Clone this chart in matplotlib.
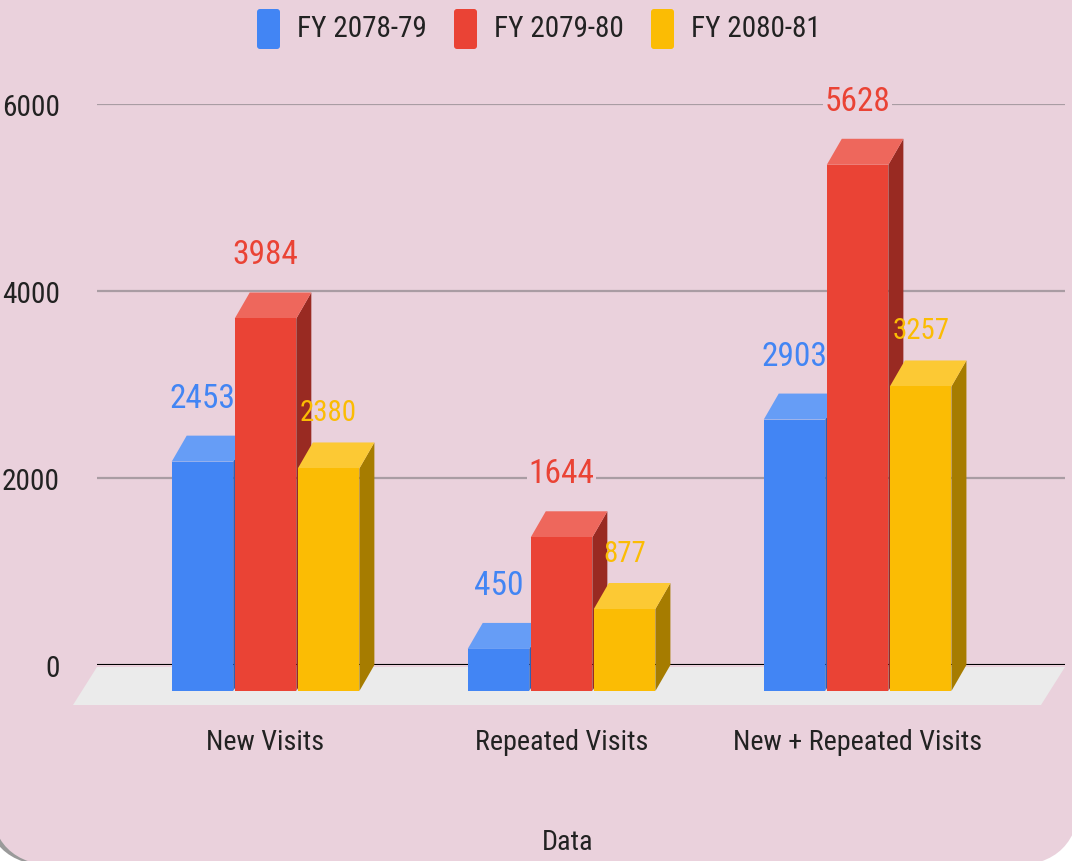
import matplotlib
matplotlib.use('Agg')
import matplotlib.pyplot as plt
from matplotlib.patches import Polygon, FancyBboxPatch
from matplotlib.transforms import IdentityTransform
from matplotlib.font_manager import FontProperties
from matplotlib.textpath import TextToPath
from matplotlib import font_manager

categories = ['New Visits', 'Repeated Visits', 'New + Repeated Visits']
series = ['FY 2078-79', 'FY 2079-80', 'FY 2080-81']
fy_7879 = [2453, 450, 2903]
fy_7980 = [3984, 1644, 5628]
fy_8081 = [2380, 877, 3257]
yticks = [0, 2000, 4000, 6000]

front_colors = ['#4285f4', '#ea4335', '#fbbc04']
top_colors = ['#669df6', '#ee675c', '#fcc934']
side_colors = ['#2f5fb3', '#992a22', '#a67c00']
bg = '#ead1dc'
txt = '#222222'


def pick_font():
    """prefer a condensed face, the original text is very narrow"""
    wanted = ['Roboto Condensed', 'Liberation Sans Narrow', 'DejaVu Sans', 'Open Sans', 'Noto Sans']
    found = {}
    for f in font_manager.fontManager.ttflist:
        fn = f.fname.lower().replace('-', '').replace('_', '')
        if 'bold' in fn or 'italic' in fn or 'oblique' in fn or 'light' in fn:
            continue
        if 'semicondensed' in fn or 'extracondensed' in fn:
            continue
        if 'condensed' in fn or 'narrow' in fn:
            found.setdefault(f.name, f.fname)
    for name in wanted:
        if name in found:
            return FontProperties(fname=found[name])
    return FontProperties(family='Roboto')


base_fp = pick_font()
t2p = TextToPath()


def fit(s, width_px, max_pt):
    """font size (pt) that makes s about width_px wide, capped at max_pt"""
    fp = base_fp.copy()
    fp.set_size(10)
    w, _, _ = t2p.get_text_width_height_descent(s, fp, ismath=False)
    size = 10 * width_px / (w * 100 / 72)
    return min(size, max_pt)


def fprop(size):
    fp = base_fp.copy()
    fp.set_size(size)
    return fp


# a bit wider than the original so the text is not too short
tick_fp = fprop(fit('6000', 58, 26))
val_fp = fprop(fit('3984', 66, 29))
val_small_fp = fprop(fit('2380', 57, 26))
cat_fp = fprop(fit('New Visits', 118, 27))
leg_fp = fprop(fit('FY 2078-79', 130, 28))

W, H = 1072, 862
fig = plt.figure(figsize=(W / 100, H / 100), dpi=100, facecolor='white')

# pink card with rounded bottom corners (+ a faint shadow on the left)
shadow = FancyBboxPatch((-16, -5), 1090, 1000, boxstyle='round,pad=0,rounding_size=70',
                        transform=IdentityTransform(), fc='#9a9a9a', ec='none', zorder=-11)
card = FancyBboxPatch((-10, -5), 1090, 1000, boxstyle='round,pad=0,rounding_size=70',
                      transform=IdentityTransform(), fc=bg, ec='none', zorder=-10)
fig.add_artist(shadow)
fig.add_artist(card)

ax = fig.add_axes([97 / W, (H - 666) / H, 968 / W, 561 / H])
ax.patch.set_visible(False)
x0, x1 = -0.62, 2.65
ax.set_xlim(x0, x1)
ax.set_ylim(0, 6000)
for s in ax.spines.values():
    s.set_visible(False)

ux = (x1 - x0) / 968   # data units per pixel
uy = 6000 / 561
DX, DY = 15 * ux, 26 * uy

ax.set_yticks(yticks)
ax.set_yticklabels([str(t) for t in yticks], fontproperties=tick_fp, color=txt)
ax.tick_params(axis='y', length=0, pad=37 * 0.72)
ax.set_xticks([])
ax.set_axisbelow(True)
ax.yaxis.grid(True, color='#a99ca3', lw=1.6)

# floor
fdx, fdy = 24 * ux, 40 * uy
floor = Polygon([(x0, -2 * uy), (x1, -2 * uy), (x1 - fdx, -fdy), (x0 - fdx, -fdy)],
                closed=True, fc='#ebebeb', ec='none', zorder=1, clip_on=False)
ax.add_patch(floor)
ax.axhline(0, color='black', lw=2.2, zorder=2)

w, step = 0.208, 0.213
z = 3.0
for j in range(len(categories)):
    for i, vals in enumerate([fy_7879, fy_7980, fy_8081]):
        v = vals[j]
        xc = j + (i - 1) * step
        xl, xr = xc - w / 2, xc + w / 2
        side = Polygon([(xr - DX, -DY), (xr, 0), (xr, v), (xr - DX, v - DY)],
                       closed=True, fc=side_colors[i], ec='none', zorder=z, clip_on=False)
        top = Polygon([(xl - DX, v - DY), (xr - DX, v - DY), (xr, v), (xl, v)],
                      closed=True, fc=top_colors[i], ec='none', zorder=z + 0.01, clip_on=False)
        ax.add_patch(side)
        ax.add_patch(top)
        ax.bar(xc - DX, v, width=w, bottom=-DY, color=front_colors[i],
               zorder=z + 0.02, clip_on=False)
        z += 0.1

# value labels: pink box only hides the gridlines, the digits sit on top of the bars
for i, vals in enumerate([fy_7879, fy_7980, fy_8081]):
    fp = val_small_fp if i == 2 else val_fp
    dy = 22 if i == 2 else 29
    for j, v in enumerate(vals):
        xc = j + (i - 1) * step
        kw = dict(xytext=(-15, dy), textcoords='offset pixels', ha='center', va='baseline',
                  fontproperties=fp)
        ax.annotate(str(v), (xc, v), color=(0, 0, 0, 0), zorder=2.5,
                    bbox=dict(boxstyle='square,pad=0.05', fc=bg, ec='none'), **kw)
        ax.annotate(str(v), (xc, v), color=front_colors[i], zorder=10, **kw)

for j, cat in enumerate(categories):
    ax.text(j - DX, -(743 - 666) * uy, cat, ha='center', va='center',
            fontproperties=cat_fp, color=txt, clip_on=False)

# legend across the top
for i, name in enumerate(series):
    lx = 257 + i * 197
    sq = FancyBboxPatch((lx, H - 50), 23, 40, boxstyle='round,pad=0,rounding_size=3',
                        transform=IdentityTransform(), fc=front_colors[i], ec='none')
    fig.add_artist(sq)
    fig.text((lx + 40) / W, 1 - 29 / H, name, ha='left', va='center',
             fontproperties=leg_fp, color=txt)

fig.text(568 / W, 1 - 843 / H, 'Data', ha='center', va='center', fontproperties=cat_fp, color=txt)

fig.savefig('out.png', dpi=100, facecolor=fig.get_facecolor())
